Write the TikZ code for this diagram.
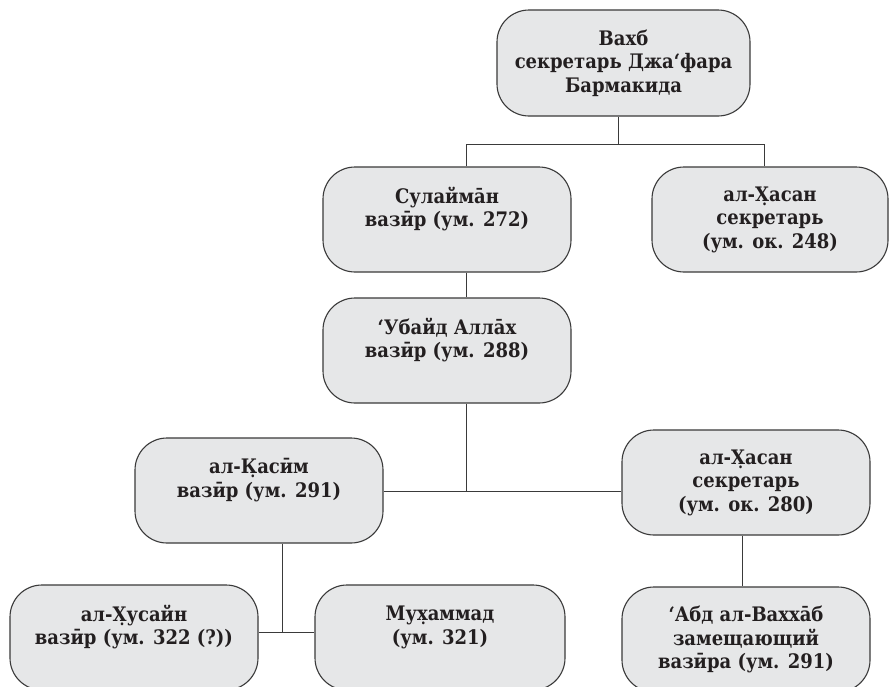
\documentclass[tikz,border=0pt]{standalone}
\usepackage{fontspec}
\setmainfont{DejaVu Serif Condensed}
\usepackage{tikz}

\definecolor{fondo}{HTML}{E6E7E8}
\definecolor{borde}{HTML}{3A3A3A}
\definecolor{letra}{HTML}{231F20}

\tikzset{
  caja/.style={draw=borde, line width=1.1pt, fill=fondo, rounded corners=32pt,
    minimum width=248pt, minimum height=105pt, align=center, text=letra,
    font=\fontsize{20}{23.5}\selectfont\bfseries},
  dos/.style={text depth=25pt},
  linea/.style={draw=borde, line width=0.9pt}
}

\begin{document}
\begin{tikzpicture}[x=1pt,y=-1pt]
%marco de la pagina
\useasboundingbox [fill=white] (0,0) rectangle (891,686);

%primera generacion
\node [caja, minimum width=253pt, minimum height=106pt] (vahb) at (623.5,63) {Вахб\\секретарь Джа‘фара\\Бармакида};

%segunda generacion
\node [caja, dos] (sulaiman) at (447,219.5) {Сулайма̄н\\вазӣр (ум. 272)};
\node [caja, minimum width=236pt] (hasanA) at (770,219.5) {ал-Х̣асан\\секретарь\\(ум. ок. 248)};

%tercera generacion
\node [caja, dos] (ubaid) at (447,350.5) {‘Убайд Алла̄х\\вазӣр (ум. 288)};

%cuarta generacion
\node [caja, dos] (qasim) at (259,490.5) {ал-К̣асӣм\\вазӣр (ум. 291)};
\node [caja] (hasanB) at (746,482.5) {ал-Х̣асан\\секретарь\\(ум. ок. 280)};

%quinta generacion
\node [caja, dos] (husain) at (134,637.5) {ал-Х̣усайн\\вазӣр (ум. 322 (?))};
\node [caja, dos, minimum width=250pt] (muhammad) at (440,637.5) {Мух̣аммад\\(ум. 321)};
\node [caja] (abd) at (746,639.5) {‘Абд ал-Вахха̄б\\замещающий\\вазӣра (ум. 291)};

%puntos de union de las lineas
\coordinate (t1) at (618,144);
\coordinate (r1) at (466,144);
\coordinate (r2) at (764,144);
\coordinate (r3) at (466,491);
\coordinate (r4) at (282,632);
\coordinate (r5) at (742,0);

%lineas entre las cajas
\draw [linea] (vahb.south -| t1) -- (t1);
\draw [linea] (r1 |- sulaiman.north) -- (r1) -- (r2) -- (r2 |- hasanA.north);
\draw [linea] (r1 |- sulaiman.south) -- (r1 |- ubaid.north);
\draw [linea] (r1 |- ubaid.south) -- (r3);
\draw [linea] (qasim.east |- r3) -- (hasanB.west |- r3);
\draw [linea] (r4 |- qasim.south) -- (r4);
\draw [linea] (husain.east |- r4) -- (muhammad.west |- r4);
\draw [linea] (r5 |- hasanB.south) -- (r5 |- abd.north);
\end{tikzpicture}
\end{document}
